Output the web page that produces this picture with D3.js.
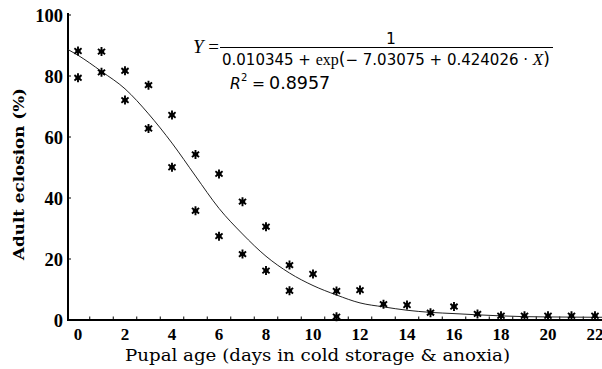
<!DOCTYPE html>
<html><head><meta charset="utf-8">
<script src="https://cdn.jsdelivr.net/npm/d3@7"></script>
<style>html,body{margin:0;padding:0;background:#fff;}svg{display:block;}</style>
</head><body>
<svg id="chart" width="602" height="369"></svg>
<script>
// Observed data (pupal age in days, adult eclosion %)
const obsDays = [0,0,1,1,2,2,3,3,4,4,5,5,6,6,7,7,8,8,9,9,10,11,11,12,13,14,15,16,17,18,19,20,21,22];
const obsValues = [88.2,79.4,88.0,81.2,81.7,72.1,77.0,62.8,67.2,50.1,54.3,35.8,47.9,27.5,38.8,21.6,30.6,16.2,18.0,9.6,15.1,9.5,1.1,9.8,5.2,4.9,2.4,4.4,2.0,1.4,1.4,1.4,1.4,1.4];
// Fitted curve as drawn
const curveDays = [-0.43,0,1,2,3,4,5,6,7,8,9,10,11,12,13,14,15,16,17,18,19,20,21,22,22.4];
const curveValues = [88.7,86.8,81.5,75.8,67.6,58.0,47.2,36.6,28.2,20.9,15.4,11.3,8.2,5.6,4.3,3.2,2.5,2.1,1.7,1.35,1.1,1.0,0.95,0.9,0.9];
const xTickLabels = [0,2,4,6,8,10,12,14,16,18,20,22];
const xMinorTicks = d3.range(0.5, 22.6, 1);
const yTickLabels = [0,20,40,60,80,100];

const svg = d3.select("#chart");
const x = d3.scaleLinear().domain([0,22]).range([78,595]);
const y = d3.scaleLinear().domain([0,100]).range([320,15]);
const x0 = 68, x1 = 602;

// axes lines
svg.append("line").attr("x1",x0).attr("x2",x0).attr("y1",13).attr("y2",y(0)+1)
  .attr("stroke","#000").attr("stroke-width",2);
svg.append("line").attr("x1",x0-1).attr("x2",x1).attr("y1",y(0)).attr("y2",y(0))
  .attr("stroke","#000").attr("stroke-width",2);

// x minor ticks (pointing up)
svg.append("g").selectAll("line").data(xMinorTicks).join("line")
  .attr("x1",d=>x(d)).attr("x2",d=>x(d)).attr("y1",y(0)).attr("y2",y(0)-3.5)
  .attr("stroke","#000").attr("stroke-width",1);
// y ticks (inward)
svg.append("g").selectAll("line").data(yTickLabels.filter(d=>d>0)).join("line")
  .attr("x1",x0).attr("x2",x0+3).attr("y1",d=>y(d)).attr("y2",d=>y(d))
  .attr("stroke","#000").attr("stroke-width",1);

// tick labels
svg.append("g").selectAll("text").data(xTickLabels).join("text")
  .attr("x",d=>x(d)).attr("y",340).attr("text-anchor","middle")
  .attr("font-family","Liberation Serif, serif").attr("font-weight","bold").attr("font-size",17)
  .text(d=>d);
svg.append("g").selectAll("text").data(yTickLabels).join("text")
  .attr("x",63).attr("y",d=>y(d)).attr("dy","0.36em").attr("text-anchor","end")
  .attr("font-family","Liberation Serif, serif").attr("font-weight","bold").attr("font-size",18.5)
  .text(d=>d);

// axis titles
svg.append("text").attr("x",317.5).attr("y",361).attr("text-anchor","middle")
  .attr("font-family","DejaVu Serif, serif").attr("font-size",16.5)
  .attr("textLength",385).attr("lengthAdjust","spacingAndGlyphs")
  .text("Pupal age (days in cold storage & anoxia)");
svg.append("text").attr("transform","translate(24,174) rotate(-90)").attr("text-anchor","middle")
  .attr("font-family","DejaVu Serif, serif").attr("font-weight","bold").attr("font-size",15.5)
  .attr("textLength",172).attr("lengthAdjust","spacingAndGlyphs")
  .text("Adult eclosion (%)");

// fitted curve
const line = d3.line().x((d,i)=>x(curveDays[i])).y(d=>y(d)).curve(d3.curveMonotoneX);
svg.append("path").attr("d",line(curveValues)).attr("fill","none")
  .attr("stroke","#222").attr("stroke-width",1);

// asterisk markers
const r = 4.5, rd = r*0.8;
const astPath = `M0,${-r}V${r}M${-rd},${-rd*0.75}L${rd},${rd*0.75}M${-rd},${rd*0.75}L${rd},${-rd*0.75}M${-r*0.6},0H${r*0.6}`;
svg.append("g").selectAll("path").data(obsValues).join("path")
  .attr("transform",(d,i)=>`translate(${x(obsDays[i])},${y(d)})`)
  .attr("d",astPath).attr("stroke","#000").attr("stroke-width",1.9).attr("fill","none");

// equation
const sans = "DejaVu Sans, Verdana, sans-serif";
const eq = svg.append("g");
eq.append("text").attr("x",193).attr("y",53).attr("font-family","Liberation Serif, serif")
  .attr("font-size",19).html('<tspan font-style="italic">Y</tspan> =');
eq.append("text").attr("x",391).attr("y",43.5).attr("text-anchor","middle")
  .attr("font-family",sans).attr("font-size",15.5).text("1");
eq.append("line").attr("x1",220).attr("x2",553).attr("y1",47.5).attr("y2",47.5)
  .attr("stroke","#000").attr("stroke-width",1);
eq.append("text").attr("x",222).attr("y",65).attr("font-family",sans)
  .attr("font-size",15)
  .html('0.010345 + <tspan font-family="Liberation Serif, serif" font-size="16">exp</tspan><tspan font-size="17">(</tspan>\u2212 7.03075 + 0.424026 \u00B7 <tspan font-family="Liberation Serif, serif" font-style="italic" font-size="17">X</tspan><tspan font-size="17">)</tspan>');
eq.append("text").attr("x",230).attr("y",88.5).attr("font-family",sans)
  .attr("font-size",15.5).attr("font-style","italic").text("R");
eq.append("text").attr("x",241).attr("y",81).attr("font-family",sans)
  .attr("font-size",10).text("2");
eq.append("text").attr("x",252).attr("y",88.5).attr("font-family",sans)
  .attr("font-size",15.5).text("=");
eq.append("text").attr("x",269).attr("y",88.5).attr("font-family",sans)
  .attr("font-size",17.5).text("0.8957");
</script>
</body></html>
